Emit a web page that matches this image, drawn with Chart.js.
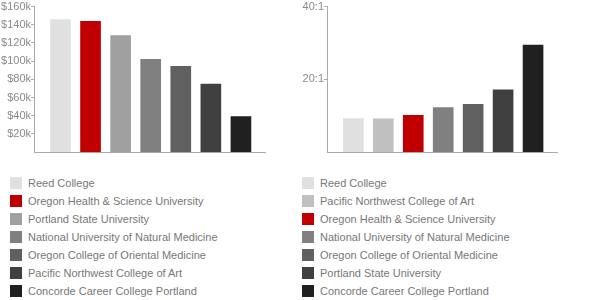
<!DOCTYPE html>
<html>
<head>
<meta charset="utf-8">
<script src="https://cdn.jsdelivr.net/npm/chart.js@4"></script>
<style>
  body { margin: 0; background: #fff; font-family: "Liberation Sans", Arial, sans-serif; }
  .wrap { position: relative; width: 600px; height: 300px; }
  .panel { position: absolute; top: 0; width: 300px; height: 300px; }
  .box { position: absolute; left: 0; top: 0; width: 300px; height: 160px; }
  ul { position: absolute; margin: 0; padding: 0; list-style: none; top: 174px; }
  li { height: 18px; line-height: 18px; font-size: 11px; color: #777; white-space: nowrap; }
  li span { display: inline-block; width: 12px; height: 12px; vertical-align: -2px; margin-right: 6px; }
</style>
</head>
<body>
<div class="wrap">
  <div class="panel" style="left:0">
    <div class="box"><canvas id="salary"></canvas></div>
    <ul id="legendSalary" style="left:10px"></ul>
  </div>
  <div class="panel" style="left:300px">
    <div class="box"><canvas id="ratio"></canvas></div>
    <ul id="legendRatio" style="left:2px"></ul>
  </div>
</div>
<script>
// grafico izquierdo: salario
const salaryNames = ['Reed College', 'Oregon Health & Science University', 'Portland State University',
  'National University of Natural Medicine', 'Oregon College of Oriental Medicine',
  'Pacific Northwest College of Art', 'Concorde Career College Portland'];
const salaryValues = [145800, 143900, 128200, 101900, 94200, 74800, 39100];
const salaryColors = ['#e0e0e0', '#c00000', '#a0a0a0', '#808080', '#606060', '#404040', '#202020'];
const salaryTicks = [20000, 40000, 60000, 80000, 100000, 120000, 140000, 160000];

// grafico derecho: proporcion estudiantes / profesor
const ratioNames = ['Reed College', 'Pacific Northwest College of Art', 'Oregon Health & Science University',
  'National University of Natural Medicine', 'Oregon College of Oriental Medicine',
  'Portland State University', 'Concorde Career College Portland'];
const ratioValues = [9.2, 9.1, 10.1, 12.2, 13.1, 17.1, 29.4];
const ratioColors = ['#e0e0e0', '#c0c0c0', '#c00000', '#808080', '#606060', '#404040', '#202020'];
const ratioTicks = [20, 40];

const axisColor = '#aaaaaa';
const tickFont = { family: 'Liberation Sans', size: 11 };

function buildLegend(id, names, colors) {
  const ul = document.getElementById(id);
  names.forEach((n, i) => {
    const li = document.createElement('li');
    li.innerHTML = '<span style="background:' + colors[i] + '"></span>';
    li.appendChild(document.createTextNode(n));
    ul.appendChild(li);
  });
}

function makeChart(id, values, colors, ticks, max, fmt, axisW, padRight) {
  new Chart(document.getElementById(id), {
    type: 'bar',
    data: {
      datasets: [{
        data: values.map((v, i) => ({ x: i, y: v })),
        backgroundColor: colors,
        barThickness: 20
      }]
    },
    options: {
      responsive: true,
      maintainAspectRatio: false,
      animation: false,
      layout: { padding: { top: 6, right: padRight, bottom: 8, left: 0 } },
      plugins: { legend: { display: false }, tooltip: { enabled: false } },
      scales: {
        x: {
          type: 'linear',
          offset: false,
          min: -0.88,
          max: 6.8,
          grid: { display: false },
          ticks: { display: false },
          border: { color: axisColor },
          afterFit: s => { s.height = 0; }
        },
        y: {
          min: 0,
          max: max,
          afterBuildTicks: s => { s.ticks = ticks.map(v => ({ value: v })); },
          afterFit: s => { s.width = axisW; },
          grid: { drawOnChartArea: false, tickLength: 3, color: axisColor },
          border: { color: axisColor },
          ticks: { color: '#8a8a8a', font: tickFont, padding: 0, callback: fmt }
        }
      }
    }
  });
}

makeChart('salary', salaryValues, salaryColors, salaryTicks, 160000, v => '$' + (v / 1000) + 'k', 34, 35);
makeChart('ratio', ratioValues, ratioColors, ratioTicks, 40, v => v + ':1', 27, 43);
buildLegend('legendSalary', salaryNames, salaryColors);
buildLegend('legendRatio', ratioNames, ratioColors);
</script>
</body>
</html>
